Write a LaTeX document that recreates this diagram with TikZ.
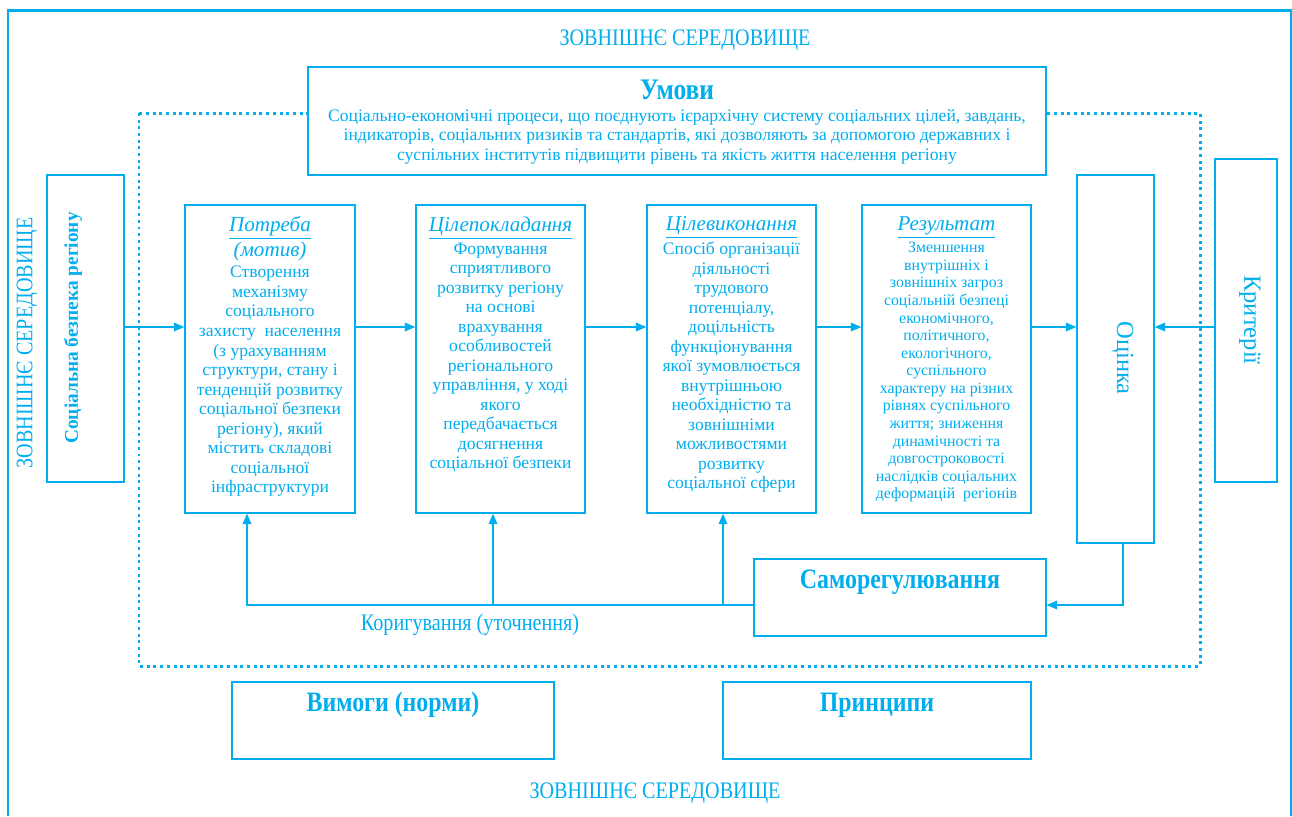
\documentclass[tikz,border=0pt]{standalone}
\usepackage{fontspec}
\setmainfont{Liberation Serif}
\newfontfamily\vuzkyi[FakeStretch=0.85]{Liberation Serif}
\usepackage{xcolor}
\definecolor{blakyt}{RGB}{0,174,239}
\usepackage{tikz}
\usetikzlibrary{arrows.meta,positioning,calc}
\tikzstyle{frame} = [line width=1.7pt,draw=blakyt]
\tikzstyle{zone} = [line width=1.7pt,draw=blakyt,dash pattern=on 1.7pt off 2.1pt]
\tikzstyle{blok} = [draw=blakyt,line width=0.8pt,fill=white,inner sep=0pt]
\tikzstyle{link} = [draw=blakyt,line width=0.7pt,-{Triangle[length=6pt,width=5pt]}]
\tikzstyle{txt} = [text=blakyt,inner sep=0pt,align=center]
\tikzstyle{ttl} = [txt,font=\fontsize{12}{12.5}\selectfont\itshape]
\tikzstyle{body} = [txt,font=\fontsize{10}{11.1}\selectfont]
\tikzstyle{head} = [txt,font=\vuzkyi\bfseries\fontsize{16}{17}\selectfont]
\tikzstyle{env} = [txt,font=\vuzkyi\fontsize{13.5}{14}\selectfont]

\begin{document}
\begin{tikzpicture}[x=0.02cm,y=-0.02cm]
    \useasboundingbox (0,0) rectangle (1292,816);
    \draw[frame] (8,816) -- (8,10) -- (1291,10) -- (1291,816);
    \node[env] (zovn-top) at (685,40) {ЗОВНІШНЄ СЕРЕДОВИЩЕ};
    \node[env] (zovn-bot) at (655,793) {ЗОВНІШНЄ СЕРЕДОВИЩЕ};
    \node[env,rotate=90] (zovn-left) at (27,343) {ЗОВНІШНЄ СЕРЕДОВИЩЕ};
    \draw[zone] (139,113) rectangle (1200,666);

    % boxes
    \node[blok,minimum width=14.76cm,minimum height=2.16cm] (umovy) at (677,121) {};
    \node[blok,minimum width=1.54cm,minimum height=6.14cm] (sbr) at (85.5,328.5) {};
    \node[blok,minimum width=3.4cm,minimum height=6.16cm] (potreba) at (270,359) {};
    \node[blok,minimum width=3.38cm,minimum height=6.16cm] (cilepokl) at (500.5,359) {};
    \node[blok,minimum width=3.38cm,minimum height=6.16cm] (cilevyk) at (731.5,359) {};
    \node[blok,minimum width=3.38cm,minimum height=6.16cm] (rezult) at (946.5,359) {};
    \node[blok,minimum width=1.54cm,minimum height=7.36cm] (ocinka) at (1115.5,359) {};
    \node[blok,minimum width=1.24cm,minimum height=6.46cm] (kryterii) at (1246,320.5) {};
    \node[blok,minimum width=5.84cm,minimum height=1.54cm] (samoreg) at (900,597.5) {};
    \node[blok,minimum width=6.44cm,minimum height=1.54cm] (vymogy) at (393,720.5) {};
    \node[blok,minimum width=6.16cm,minimum height=1.54cm] (pryntsypy) at (877,720.5) {};

    % texts
    \node[head,font=\vuzkyi\bfseries\fontsize{17}{18}\selectfont,anchor=north] (umovy-t) at ($(umovy.north)+(0,13)$) {Умови};
    \node[body,below=0.18cm of umovy-t] (umovy-b) {Соціально-економічні процеси, що поєднують ієрархічну систему соціальних цілей, завдань,\\
        індикаторів, соціальних ризиків та стандартів, які дозволяють за допомогою державних і\\
        суспільних інститутів підвищити рівень та якість життя населення регіону};
    \node[txt,rotate=90,font=\bfseries\fontsize{11}{12}\selectfont] (sbr-t) at (73,328) {Соціальна безпека регіону};
    \node[txt,rotate=-90,font=\fontsize{14}{15}\selectfont] (ocinka-t) at (1123,358) {Оцінка};
    \node[txt,rotate=-90,font=\fontsize{14}{15}\selectfont] (kryterii-t) at (1250,320) {Критерії};

    \node[ttl,anchor=north] (potreba-t) at ($(potreba.north)+(0,12)$) {\underline{Потреба}\\(мотив)};
    \node[body,below=0.1cm of potreba-t] (potreba-b) {Створення\\механізму\\соціального\\захисту~ населення\\(з урахуванням\\структури, стану і\\тенденцій розвитку\\соціальної безпеки\\регіону), який\\містить складові\\соціальної\\інфраструктури};
    \node[ttl,anchor=north] (cilepokl-t) at ($(cilepokl.north)+(0,12)$) {\underline{Цілепокладання}};
    \node[body,below=0.06cm of cilepokl-t] (cilepokl-b) {Формування\\сприятливого\\розвитку регіону\\на основі\\врахування\\особливостей\\регіонального\\управління, у ході\\якого\\передбачається\\досягнення\\соціальної безпеки};
    \node[ttl,anchor=north] (cilevyk-t) at ($(cilevyk.north)+(0,12)$) {\underline{Цілевиконання}};
    \node[body,below=0.06cm of cilevyk-t] (cilevyk-b) {Спосіб організації\\діяльності\\трудового\\потенціалу,\\доцільність\\функціонування\\якої зумовлюється\\внутрішньою\\необхідністю та\\зовнішніми\\можливостями\\розвитку\\соціальної сфери};
    \node[ttl,anchor=north] (rezult-t) at ($(rezult.north)+(0,12)$) {\underline{Результат}};
    \node[txt,font=\fontsize{9}{10}\selectfont,below=0.06cm of rezult-t] (rezult-b) {Зменшення\\внутрішніх і\\зовнішніх загроз\\соціальній безпеці\\економічного,\\політичного,\\екологічного,\\суспільного\\характеру на різних\\рівнях суспільного\\життя; зниження\\динамічності та\\довгостроковості\\наслідків соціальних\\деформацій~ регіонів};

    \node[head] (samoreg-t) at (900,582) {Саморегулювання};
    \node[head] (vymogy-t) at (393,705) {Вимоги (норми)};
    \node[head] (pryntsypy-t) at (877,705) {Принципи};
    \node[env] (koryg) at (470,625) {Коригування (уточнення)};

    % arrows
    \coordinate (rivn) at (0,327);
    \coordinate (zv) at (0,605);
    \draw[link] (sbr.east |- rivn) -- (potreba.west |- rivn);
    \draw[link] (potreba.east |- rivn) -- (cilepokl.west |- rivn);
    \draw[link] (cilepokl.east |- rivn) -- (cilevyk.west |- rivn);
    \draw[link] (cilevyk.east |- rivn) -- (rezult.west |- rivn);
    \draw[link] (rezult.east |- rivn) -- (ocinka.west |- rivn);
    \draw[link] (kryterii.west |- rivn) -- (ocinka.east |- rivn);
    \draw[link] ([xshift=0.15cm]ocinka.south) |- (samoreg.east |- zv);
    \draw[link] (samoreg.west |- zv) -| ([xshift=-0.46cm]potreba.south);
    \draw[link] ([xshift=-0.15cm]cilepokl.south |- zv) -- ([xshift=-0.15cm]cilepokl.south);
    \draw[link] ([xshift=-0.17cm]cilevyk.south |- zv) -- ([xshift=-0.17cm]cilevyk.south);
\end{tikzpicture}
\end{document}
